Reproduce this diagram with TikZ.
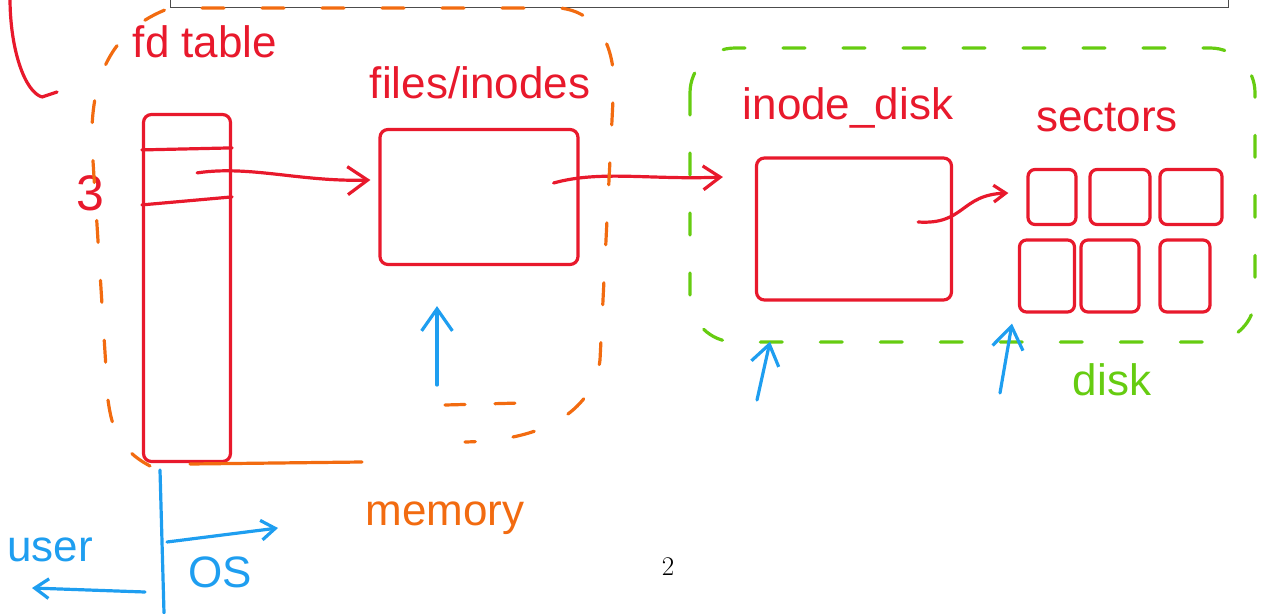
\documentclass[tikz,border=0pt]{standalone}
\usepackage{fontspec}
\setsansfont{Liberation Sans}
\usetikzlibrary{arrows.meta,calc}
\definecolor{inkred}{HTML}{E8192C}
\definecolor{inkorange}{HTML}{F26B10}
\definecolor{inkgreen}{HTML}{66CC11}
\definecolor{inkblue}{HTML}{1E9EF0}
\begin{document}
\begin{tikzpicture}[x=1pt,y=-1pt,
    ink/.style={line width=3.2pt,line cap=round,line join=round},
    box/.style={ink,draw=inkred,rounded corners=8pt,inner sep=0pt},
    word/.style={font=\sffamily\fontsize{44}{48}\selectfont,inner sep=0pt},
    barb/.style={-{Straight Barb[length=#1,width=1.4*#1]}},
    gap/.style={dash pattern=on 22pt off 38pt},
  ]
  \useasboundingbox (0,0) rectangle (1265,613);
  % page frame and bracket
  \draw[line width=0.8pt,black!70] (170,-2) |- (1228,7) -- (1228,-2);
  \draw[ink,inkred] (10,-2) .. controls (10,50) and (25,92) .. (42,97) -- (57,92);
  \node (pagenum) at (668,567) {\fontsize{27}{30}\selectfont 2};

  % boxes
  \node[box,minimum width=87pt,minimum height=347pt] (fd) at (187,288) {};
  \node[box,minimum width=198pt,minimum height=135pt] (files) at (479,197) {};
  \node[box,minimum width=195pt,minimum height=142pt] (idisk) at (854,229) {};
  \foreach \i/\x/\y/\w/\h in {1/1052/197/48/55, 2/1120/197/60/55, 3/1191/197/62/55,
                              4/1047/276/55/72, 5/1110/276/58/72, 6/1185/276/50/72}
    \node[box,rounded corners=7pt,minimum width=\w pt,minimum height=\h pt] (sec\i) at (\x,\y) {};
  \draw[ink,inkred] ([yshift=-37pt]fd.north west) -- ([yshift=-35pt]fd.north east);
  \draw[ink,inkred] ([yshift=-92pt]fd.north west) -- ([yshift=-84pt]fd.north east);

  % labels
  \node[word,text=inkred] (fdlabel) at (205,42) {fd table};
  \node[word,text=inkred,font=\sffamily\fontsize{50}{54}\selectfont] (three) at (90,193) {3};
  \node[word,text=inkred] (fileslabel) at (480,83) {files/inodes};
  \node[word,text=inkred] (idisklabel) at (848,108) {inode\_disk};
  \node[word,text=inkred] (seclabel) at (1107,117) {sectors};
  \node[word,text=inkgreen] (disklabel) at (1112,380) {disk};
  \node[word,text=inkorange] (memlabel) at (445,518) {memory};
  \node[word,text=inkblue] (userlabel) at (50,550) {user};
  \node[word,text=inkblue] (oslabel) at (220,572) {OS};

  % pointers
  \coordinate (fdslot) at ([xshift=-35pt,yshift=-60pt]fd.north east);
  \coordinate (fileptr) at ([xshift=-26pt,yshift=14pt]files.east);
  \coordinate (idiskptr) at ([xshift=-35pt,yshift=7pt]idisk.east);
  \draw[ink,inkred,barb=20pt] (fdslot) .. controls (250,165) and (300,182) .. ([xshift=-8pt,yshift=17pt]files.west);
  \draw[ink,inkred,barb=17pt] (fileptr) .. controls (600,170) and (650,180) .. ([xshift=-32pt,yshift=52pt]idisk.west);
  \draw[ink,inkred,barb=12pt] (idiskptr) .. controls (965,225) and (960,195) .. ([xshift=-18pt,yshift=4pt]sec1.west);

  % memory and disk regions
  \draw[ink,inkorange,gap] (150,466) .. controls (120,450) and (112,430) .. (108,400)
    -- (92,145) .. controls (90,80) and (110,30) .. (170,8) -- (560,8)
    .. controls (595,12) and (612,40) .. (614,80) -- (600,360)
    .. controls (595,400) and (560,440) .. (465,442);
  \draw[ink,inkorange,dash pattern=on 20pt off 30pt] (445,405) -- (520,403);
  \draw[ink,inkorange] (190,464) -- (362,462);
  \draw[ink,inkgreen,gap,rounded corners=45pt] (690,48) rectangle (1255,342);

  % views
  \coordinate (filesup) at ([xshift=-42pt,yshift=-40pt]files.south);
  \coordinate (filesfoot) at (437,385);
  \coordinate (idiskup) at ([xshift=-84pt,yshift=-40pt]idisk.south);
  \coordinate (idiskfoot) at (757,400);
  \coordinate (secup) at ([xshift=-35pt,yshift=-10pt]sec4.south);
  \coordinate (secfoot) at (1000,393);
  \draw[ink,inkblue,barb=22pt] (filesfoot) -- (filesup);
  \draw[ink,inkblue,barb=20pt] (idiskfoot) -- (idiskup);
  \draw[ink,inkblue,barb=22pt] (secfoot) -- (secup);

  % user / OS split
  \coordinate (splittop) at (160,470);
  \coordinate (splitbot) at (164,613);
  \coordinate (osfrom) at (167,542);
  \coordinate (osto) at (278,528);
  \coordinate (userfrom) at (145,592);
  \coordinate (userto) at (32,588);
  \draw[ink,inkblue] (splittop) -- (splitbot);
  \draw[ink,inkblue,barb=14pt] (osfrom) -- (osto);
  \draw[ink,inkblue,barb=14pt] (userfrom) -- (userto);
\end{tikzpicture}
\end{document}
